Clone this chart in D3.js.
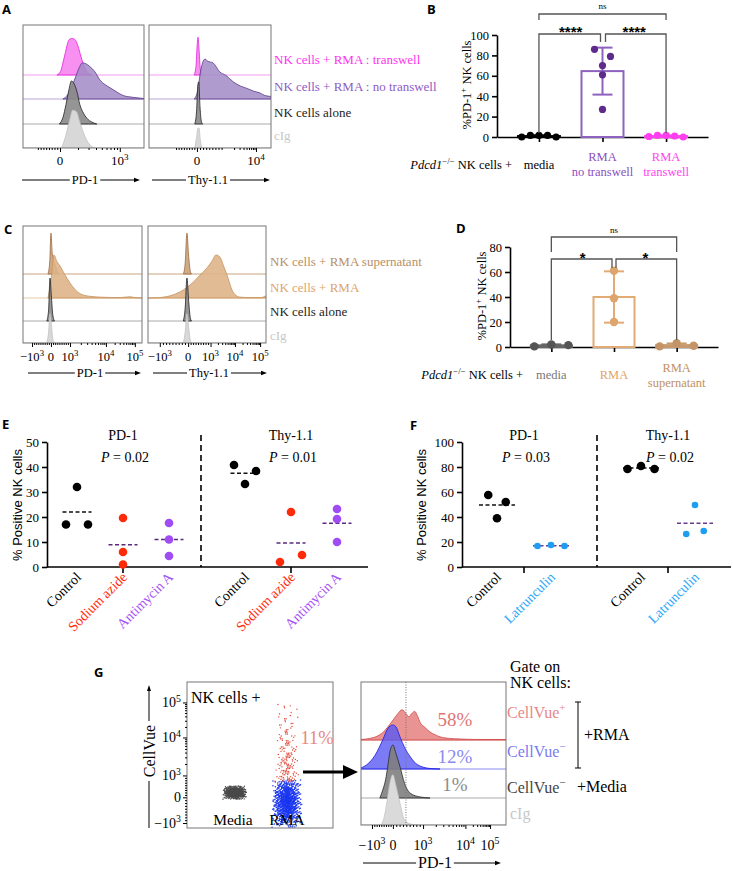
<!DOCTYPE html>
<html>
<head>
<meta charset="utf-8">
<script src="https://cdn.jsdelivr.net/npm/d3@7"></script>
<style>
  body { margin: 0; background: #fff; }
</style>
</head>
<body>
<svg id="fig" width="733" height="871"></svg>
<script>
var SERIF = "'Liberation Serif', 'Times New Roman', serif";
var SANS = "'Liberation Sans', Arial, sans-serif";

// ---------------- data ----------------
// A: flow histograms, [axis channel 0-100, % of mode]
var aLanes = ["NK cells + RMA : transwell", "NK cells + RMA : no transwell", "NK cells alone", "cIg"];
var aPd1Transwell   = [[28,0],[31,8],[33,28],[35,52],[36.5,70],[38,82],[40,85],[42,84],[44,78],[46,62],[48,42],[50,24],[52,11],[54,4],[57,0]];
var aPd1NoTranswell = [[33,0],[37,10],[40.5,30],[44,55],[47,76],[49,84],[52,82],[55,76],[59.5,63],[63.6,44],[68,33],[72,26],[76,19],[80,12],[84,7],[88,5],[97,2],[100,1]];
var aPd1Alone       = [[30,0],[33,15],[35.5,45],[38,80],[40,100],[42,95],[44.6,75],[47,45],[50,25],[54,10],[58,3],[61,0]];
var aPd1Cig         = [[32,0],[35.5,30],[39,70],[41,88],[44,85],[47,60],[50,35],[54,12],[57,3],[60,0]];
var aThyTranswell   = [[37,0],[38.5,20],[39.5,70],[40.2,88],[41,60],[42,15],[43,0]];
var aThyNoTranswell = [[37,0],[40,20],[42,60],[44,85],[46,93],[48,88],[52.5,84],[58,63],[63,55],[69,40],[75,30],[80,25],[86,18],[91,14],[95,8],[100,6]];
var aThyAlone       = [[37.5,0],[39,30],[40,90],[40.8,98],[41.8,40],[43,5],[44,0]];
var aThyCig         = [[37.5,0],[39,25],[40,45],[41,47],[42,20],[43.5,0]];
var aPd1TickPos = [30.6, 80], aPd1TickLabels = ["0", "10^{3}"];
var aThyTickPos = [39.3, 87.7], aThyTickLabels = ["0", "10^{4}"];

// B: % PD-1+ NK cells
var bCategories = ["media", "RMA no transwell", "RMA transwell"];
var bMedia       = [0, 1.5, 1.5, 1.5, 0];
var bNoTranswell = [86, 79, 70, 61, 27];
var bTranswell   = [0.5, 1.5, 1.5, 1, 0];
var bTicks = [0, 20, 40, 60, 80, 100];

// C: histograms
var cLanes = ["NK cells + RMA supernatant", "NK cells + RMA", "NK cells alone", "cIg"];
var cPd1Super = [[21,0],[22.5,30],[23.5,95],[24.5,50],[25.5,35],[27,20],[28.5,8],[30,0]];
var cPd1Rma   = [[21,0],[23.5,40],[26,100],[28.5,85],[31,75],[35,55],[39.5,35],[43.7,20],[48,10],[56,4],[65,2],[81.5,1],[90,3],[94,1],[100,0]];
var cPd1Alone = [[20,0],[21.5,25],[22.7,100],[23.8,60],[25,15],[26.5,0]];
var cPd1Cig   = [[20,0],[21.5,25],[22.7,68],[23.8,45],[25,10],[26.5,0]];
var cThySuper = [[30,0],[31.5,25],[33,95],[34.5,40],[36,5],[37,0]];
var cThyRma   = [[0,0],[10,1],[18.6,5],[27,14],[35.6,30],[44,53],[50,70],[54,85],[57.6,100],[61,95],[64,75],[68,45],[71,20],[74.6,6],[78,2],[86,1],[96.6,1],[99,4],[100,4]];
var cThyAlone = [[30,0],[31.5,30],[33,100],[34.5,45],[36,5],[37,0]];
var cThyCig   = [[30,0],[31.5,25],[33,68],[34.5,35],[36,5],[37,0]];
var cPd1TickPos = [7.6, 23.5, 39.5, 69.7, 94];
var cThyTickPos = [10, 34, 53, 73.7, 95];
var cTickLabels = ["\u221210^{3}", "0", "10^{3}", "10^{4}", "10^{5}"];

// D
var dCategories = ["media", "RMA", "RMA supernatant"];
var dMedia = [0.5, 2, 1.5];
var dRma = [61, 39, 20];
var dSupernatant = [0.5, 3, 1];
var dTicks = [0, 20, 40, 60, 80];

// E
var eGroups = ["PD-1", "Thy-1.1"];
var eTreatments = ["Control", "Sodium azide", "Antimycin A"];
var ePValues = ["0.02", "0.01"];
var ePd1 = [[17, 32, 17], [19.6, 6, 1], [17.6, 11, 4.4]];
var eThy = [[40.8, 38.4, 33.2], [2, 22, 4.8], [23.2, 19.2, 10]];
var eTicks = [0, 10, 20, 30, 40, 50];

// F
var fGroups = ["PD-1", "Thy-1.1"];
var fTreatments = ["Control", "Latrunculin"];
var fPValues = ["0.03", "0.02"];
var fPd1 = [[57.6, 39, 52], [16.8, 17.6, 16.8]];
var fThy = [[78.4, 80.8, 78.4], [26.4, 49.6, 28.8]];
var fTicks = [0, 20, 40, 60, 80, 100];

// G: CellVue dot plot, [CellVue channel 0-100, events]
var gCategories = ["Media", "RMA"];
var gMediaEvents  = [[20.5,40],[22,110],[23.5,160],[25,160],[26.5,110],[28,40]];
var gRmaNegEvents = [[2,20],[5,45],[8,70],[11,95],[14,115],[17,125],[20,120],[23,105],[26,80],[29,55],[31.5,30]];
var gRmaPosEvents = [[34,24],[38,22],[42,20],[46,18],[50,16],[54,14],[58,12],[62,10],[66,8],[70,7],[74,5],[78,4],[82,3],[85,2]];
var gCellVueTickPos = [86, 62, 36, 21, 3.4];
var gCellVueTickLabels = ["10^{5}", "10^{4}", "10^{3}", "0", "\u221210^{3}"];
// G: PD-1 histograms
var gLanes = ["CellVue^{+}", "CellVue^{\u2212}", "CellVue^{\u2212}", "cIg"];
var gPercents = ["58%", "12%", "1%"];
var gPos  = [[0,1],[6,3],[11.7,8],[16.5,18],[20,30],[23,41],[25.5,50],[28.3,57],[31,50],[33,44],[35,50],[37,54],[39,45],[41,32],[44,24],[47.6,15],[51,10],[54.5,6],[61,3],[68,2],[79,1],[100,1]];
var gNeg  = [[0,2],[4,8],[9.7,26],[15,55],[18.6,77],[22,83],[24,80],[27,60],[30,41],[34,23],[39,8],[47.6,1],[54.5,0]];
var gMed  = [[13,0],[15,15],[17,35],[18.6,62],[20,88],[22,100],[24,85],[27,58],[30,28],[34,9],[40.7,2],[47.6,0]];
var gCig  = [[14,0],[16,15],[18,45],[20,80],[22,95],[24,75],[27,40],[29.6,12],[34,2],[39,0]];
var gPd1TickPos = [7.6, 22, 42.8, 72, 89];
var gPd1Gate = 31;

// ---------------- helpers ----------------
var svg = d3.select("#fig");
var clipCount = 0;

// "^{..}" = superscript, "*..*" = italic
function richText(g, x, y, str, o) {
  o = o || {};
  var size = o.size || 13;
  var t = g.append("text")
    .attr("x", o.transform ? 0 : x).attr("y", o.transform ? 0 : y)
    .attr("font-size", size).attr("font-family", o.family || SERIF)
    .attr("fill", o.color || "#000").attr("text-anchor", o.anchor || "start");
  if (o.weight) t.attr("font-weight", o.weight);
  if (o.transform) t.attr("transform", o.transform);
  if (o.plain) { t.text(str); return t; }
  var parts = str.split(/(\^\{[^}]*\}|\*[^*]+\*)/).filter(function(s) { return s.length; });
  var raised = false;
  parts.forEach(function(p) {
    var ts = t.append("tspan");
    if (p.indexOf("^{") === 0) {
      ts.text(p.slice(2, -1)).attr("font-size", size * 0.7).attr("dy", -size * 0.42);
      raised = true;
    } else {
      if (p[0] === "*") { ts.attr("font-style", "italic"); p = p.slice(1, -1); }
      if (raised) { ts.attr("dy", size * 0.42); raised = false; }
      ts.text(p);
    }
  });
  return t;
}

function styleAxis(sel, fs) {
  sel.select(".domain").attr("stroke-width", 1.6);
  sel.selectAll(".tick line").attr("stroke-width", 1.6);
  sel.selectAll(".tick text").attr("font-family", SERIF).attr("font-size", fs || 13).attr("fill", "#000");
}

function minorTicks(majors, kinds) {
  var out = [];
  kinds.forEach(function(k, i) {
    var a = majors[i], b = majors[i + 1];
    for (var j = 2; j <= 9; j++) out.push(k === "log" ? a + Math.log10(j) * (b - a) : a + (j - 1) / 9 * (b - a));
  });
  return out;
}

function histBox(o) {
  var g = svg.append("g");
  var x = d3.scaleLinear().domain([0, 100]).range([o.x0, o.x1]);
  var h = d3.scaleLinear().domain([0, 100]).range([0, o.peak]);
  var id = "clip" + (clipCount++);
  g.append("clipPath").attr("id", id).append("rect")
    .attr("x", o.x0).attr("y", o.top).attr("width", o.x1 - o.x0).attr("height", o.bottom - o.top);
  var inner = g.append("g").attr("clip-path", "url(#" + id + ")");
  o.series.forEach(function(s, i) {
    var base = o.bases[i], st = o.styles[i];
    inner.append("line").attr("x1", o.x0).attr("x2", o.x1).attr("y1", base).attr("y2", base)
      .attr("stroke", st.base).attr("stroke-width", 1);
    var area = d3.area().curve(d3.curveMonotoneX)
      .x(function(d) { return x(d[0]); })
      .y0(base)
      .y1(function(d) { return base - h(d[1]); });
    inner.append("path").datum(s).attr("d", area)
      .attr("fill", st.fill).attr("fill-opacity", st.opacity)
      .attr("stroke", st.stroke).attr("stroke-width", 0.8);
  });
  if (o.gate != null) {
    g.append("line").attr("x1", x(o.gate)).attr("x2", x(o.gate)).attr("y1", o.top).attr("y2", o.bottom)
      .attr("stroke", "#777").attr("stroke-dasharray", "1,1.5");
  }
  g.append("rect").attr("x", o.x0).attr("y", o.top).attr("width", o.x1 - o.x0).attr("height", o.bottom - o.top)
    .attr("fill", "none").attr("stroke", "#777").attr("stroke-width", 1);
  var major = g.append("g").attr("transform", "translate(0," + o.bottom + ")")
    .call(d3.axisBottom(x).tickValues(o.ticks).tickFormat("").tickSize(4).tickSizeOuter(0));
  major.select(".domain").remove();
  if (o.minor) {
    var mn = g.append("g").attr("transform", "translate(0," + o.bottom + ")")
      .call(d3.axisBottom(x).tickValues(o.minor).tickFormat("").tickSize(2).tickSizeOuter(0));
    mn.select(".domain").remove();
  }
  o.labels.forEach(function(lab, i) {
    richText(g, x(o.ticks[i]), o.labelY, lab, { size: o.labelSize, anchor: "middle" });
  });
  return x;
}

function arrowLabel(xa, xb, y, cx, text, size) {
  var g = svg.append("g");
  var t = richText(g, cx, y + size * 0.34, text, { size: size, anchor: "middle" });
  var w = t.node().getComputedTextLength();
  g.append("line").attr("x1", xa).attr("x2", cx - w / 2 - 2).attr("y1", y).attr("y2", y).attr("stroke", "#000");
  g.append("line").attr("x1", cx + w / 2 + 2).attr("x2", xb - 4).attr("y1", y).attr("y2", y).attr("stroke", "#000");
  g.append("path").attr("d", "M" + xb + "," + y + "L" + (xb - 6) + "," + (y - 2.2) + "L" + (xb - 6) + "," + (y + 2.2) + "Z").attr("fill", "#000");
}

// group points whose y are within thresh px; spread each group around the category
function swarm(values, y, thresh, spacing) {
  var idx = values.map(function(v, i) { return i; }).sort(function(a, b) { return values[b] - values[a]; });
  var groups = [], cur = null;
  idx.forEach(function(i) {
    if (cur && Math.abs(y(values[i]) - y(values[cur[0]])) < thresh) cur.push(i);
    else { cur = [i]; groups.push(cur); }
  });
  var off = [];
  groups.forEach(function(gr) {
    gr.sort(function(a, b) { return a - b; });
    var s = spacing[gr.length] || spacing[0];
    gr.forEach(function(i, k) { off[i] = (k - (gr.length - 1) / 2) * s; });
  });
  return off;
}

function bracket(g, xa, xb, yTop, dropA, dropB) {
  g.append("path").attr("d", "M" + xa + "," + dropA + "V" + yTop + "H" + xb + "V" + dropB)
    .attr("fill", "none").attr("stroke", "#555").attr("stroke-width", 1.3);
}

function barPanel(o) {
  var g = svg.append("g");
  var y = d3.scaleLinear().domain(o.yDomain).range([o.y0, o.y1]);
  var x = d3.scalePoint().domain(o.cats).range([o.xa, o.xb]).padding(0.66);
  g.append("g").attr("transform", "translate(" + o.xa + ",0)")
    .call(d3.axisLeft(y).tickValues(o.yTicks).tickSize(5).tickSizeOuter(0)).call(styleAxis, 12.5);
  g.append("g").attr("transform", "translate(0," + o.y0 + ")")
    .call(d3.axisBottom(x).tickSize(5).tickSizeOuter(0).tickFormat("")).call(styleAxis);
  o.groups.forEach(function(vals, i) {
    var cx = x(o.cats[i]), m = d3.mean(vals), sd = d3.deviation(vals), st = o.styles[i];
    g.append("rect").attr("x", cx - o.barW / 2).attr("width", o.barW)
      .attr("y", y(m)).attr("height", y(0) - y(m))
      .attr("fill", "none").attr("stroke", st.bar).attr("stroke-width", 2);
    var lo = Math.max(0, m - sd), hi = m + sd;
    g.append("line").attr("x1", cx).attr("x2", cx).attr("y1", y(lo)).attr("y2", y(hi))
      .attr("stroke", st.bar).attr("stroke-width", 2);
    [lo, hi].forEach(function(v) {
      g.append("line").attr("x1", cx - 10).attr("x2", cx + 10).attr("y1", y(v)).attr("y2", y(v))
        .attr("stroke", st.bar).attr("stroke-width", 2);
    });
    var off = swarm(vals, y, 8, o.spacing);
    g.selectAll(null).data(vals).enter().append("circle")
      .attr("cx", function(d, j) { return cx + off[j]; })
      .attr("cy", function(d) { return y(d); })
      .attr("r", o.r).attr("fill", st.pt);
  });
  return { g: g, x: x, y: y };
}

function dotPanel(o) {
  var g = svg.append("g");
  var y = d3.scaleLinear().domain(o.yDomain).range([o.yBottom, o.yTop]);
  var outer = d3.scaleBand().domain(o.groups).range(o.outerRange);
  var inner = d3.scalePoint().domain(o.treatments).range(o.innerRange);
  g.append("g").attr("transform", "translate(" + o.xStart + ",0)")
    .call(d3.axisLeft(y).tickValues(o.yTicks).tickSize(5).tickSizeOuter(0)).call(styleAxis, 13);
  var xa = g.append("g").attr("transform", "translate(0," + o.yBottom + ")")
    .call(d3.axisBottom(outer).tickSize(6).tickSizeOuter(0).tickFormat(""));
  styleAxis(xa);
  xa.select(".domain").attr("d", "M" + o.xStart + ",0H" + o.xEnd);
  g.append("line").attr("x1", o.divX).attr("x2", o.divX).attr("y1", o.divTop).attr("y2", o.yBottom)
    .attr("stroke", "#000").attr("stroke-width", 1.6).attr("stroke-dasharray", "6,4");
  richText(g, 0, 0, "% Positive NK cells", { size: 13, family: SANS, anchor: "middle",
    transform: "translate(" + o.yLabelX + "," + o.yLabelY + ") rotate(-90)" });
  o.data.forEach(function(grpVals, gi) {
    var gc = outer(o.groups[gi]) + outer.bandwidth() / 2;
    richText(g, gc, 440, o.groups[gi], { size: 14, anchor: "middle" });
    richText(g, gc + 2, 462, "*P* = " + o.pValues[gi], { size: 14, anchor: "middle" });
    grpVals.forEach(function(vals, ti) {
      var cx = gc + inner(o.treatments[ti]), st = o.styles[ti], m = d3.mean(vals);
      var off = swarm(vals, y, 8, o.spacing);
      g.append("line").attr("x1", cx - o.meanW / 2).attr("x2", cx + o.meanW / 2)
        .attr("y1", y(m)).attr("y2", y(m))
        .attr("stroke", st.mean).attr("stroke-width", 1.5).attr("stroke-dasharray", "4,2.5");
      g.selectAll(null).data(vals).enter().append("circle")
        .attr("cx", function(d, j) { return cx + off[j]; })
        .attr("cy", function(d) { return y(d); })
        .attr("r", st.r).attr("fill", st.pt);
      richText(g, 0, 0, o.treatments[ti], { size: 14, anchor: "end", color: st.label,
        transform: "translate(" + (cx + 5) + "," + (o.yBottom + 11) + ") rotate(-45)" });
    });
  });
}

function cloud(g, bins, step, cx, halfW, color, r, y) {
  var pts = [];
  bins.forEach(function(b, bi) {
    for (var i = 0; i < b[1]; i++) {
      var u = (((i * 0.6180339 + bi * 0.31) % 1) + ((i * 0.4142136 + bi * 0.17) % 1)) / 2 - 0.5;
      var v = ((i * 0.7548777 + bi * 0.5698403) % 1) - 0.5;
      pts.push([cx + u * 2 * halfW, y(b[0] + v * step)]);
    }
  });
  g.selectAll(null).data(pts).enter().append("circle")
    .attr("cx", function(d) { return d[0]; }).attr("cy", function(d) { return d[1]; })
    .attr("r", r).attr("fill", color);
}

function letter(x, y, t) {
  svg.append("text").attr("x", x).attr("y", y).text(t)
    .attr("font-family", "'Open Sans', 'DejaVu Sans', sans-serif").attr("font-weight", 700).attr("font-size", 13);
}

// ---------------- panel A ----------------
var aStyles = [
  { fill: "#F77CF0", stroke: "#E21EDC", base: "#F49AF0", opacity: 0.85 },
  { fill: "#A28AC6", stroke: "#5A3A8C", base: "#B9A4D8", opacity: 0.85 },
  { fill: "#8A8A8A", stroke: "#222", base: "#aaa", opacity: 0.9 },
  { fill: "#D8D8D8", stroke: "#c2c2c2", base: "#ccc", opacity: 1 }
];
letter(2, 14, "A");
histBox({ x0: 23, x1: 144, top: 25, bottom: 148, bases: [75, 99, 124, 148], peak: 43,
  series: [aPd1Transwell, aPd1NoTranswell, aPd1Alone, aPd1Cig], styles: aStyles,
  ticks: aPd1TickPos, labels: aPd1TickLabels, labelY: 165, labelSize: 13,
  minor: minorTicks([10, aPd1TickPos[0], aPd1TickPos[1]], ["lin", "log"]) });
histBox({ x0: 149, x1: 271, top: 25, bottom: 148, bases: [75, 99, 124, 148], peak: 43,
  series: [aThyTranswell, aThyNoTranswell, aThyAlone, aThyCig], styles: aStyles,
  ticks: aThyTickPos, labels: aThyTickLabels, labelY: 165, labelSize: 13,
  minor: minorTicks([20, aThyTickPos[0], 62, aThyTickPos[1]], ["lin", "lin", "log"]) });
var aLabelColors = ["#FF33EE", "#8F5BC6", "#222", "#c8c8c8"];
[64, 91, 117, 140].forEach(function(yy, i) {
  richText(svg, 274, yy, aLanes[i], { size: 13, color: aLabelColors[i] });
});
arrowLabel(22, 140, 180, 85, "PD-1", 12.5);
arrowLabel(152, 270, 180, 208, "Thy-1.1", 12.5);

// ---------------- panel B ----------------
letter(427, 14, "B");
var B = barPanel({ yDomain: [0, 100], y0: 137, y1: 35, xa: 497, xb: 708, cats: bCategories,
  yTicks: bTicks, barW: 42, r: 3.6, spacing: [8.6, 8.6, 16, 8.6, 8.6, 8.6],
  groups: [bMedia, bNoTranswell, bTranswell],
  styles: [{ bar: "#000", pt: "#000" }, { bar: "#8E62BE", pt: "#5E2B8C" }, { bar: "#FF44EE", pt: "#FF3EF0" }] });
(function() {
  var x = B.x, g = B.g;
  var xm = x(bCategories[0]), xr = x(bCategories[1]), xt = x(bCategories[2]);
  bracket(g, xm, xr - 2, 34, 133, 42);
  bracket(g, xr + 3, xt, 34, 42, 133);
  bracket(g, xm, xt, 14, 20, 20);
  richText(g, (xm + xr) / 2, 37, "****", { size: 15, family: SANS, weight: 700, anchor: "middle", plain: true });
  richText(g, (xr + xt) / 2, 37, "****", { size: 15, family: SANS, weight: 700, anchor: "middle", plain: true });
  richText(g, (xm + xt) / 2, 9, "ns", { size: 9, anchor: "middle" });
  richText(g, 0, 0, "%PD-1^{+} NK cells", { size: 12.5, anchor: "middle", transform: "translate(471,85) rotate(-90)" });
  richText(g, 512, 169, "*Pdcd1*^{\u2212/\u2212} NK cells +", { size: 12.5, anchor: "end" });
  richText(g, xm, 169, "media", { size: 12.5, anchor: "middle" });
  richText(g, xr, 161, "RMA", { size: 12.5, anchor: "middle", color: "#8A4FC0" });
  richText(g, xr, 176, "no transwell", { size: 12.5, anchor: "middle", color: "#8A4FC0" });
  richText(g, xt, 161, "RMA", { size: 12.5, anchor: "middle", color: "#FF44EE" });
  richText(g, xt, 176, "transwell", { size: 12.5, anchor: "middle", color: "#FF44EE" });
})();

// ---------------- panel C ----------------
var cStyles = [
  { fill: "#CBA27B", stroke: "#9A6A3C", base: "#C9A47E", opacity: 0.9 },
  { fill: "#DDB488", stroke: "#C8925C", base: "#E6C7A6", opacity: 0.9 },
  { fill: "#8A8A8A", stroke: "#222", base: "#aaa", opacity: 0.9 },
  { fill: "#D8D8D8", stroke: "#c2c2c2", base: "#ccc", opacity: 1 }
];
letter(4, 234, "C");
histBox({ x0: 23, x1: 142, top: 226, bottom: 343, bases: [274, 298, 321, 343], peak: 43,
  series: [cPd1Super, cPd1Rma, cPd1Alone, cPd1Cig], styles: cStyles,
  ticks: cPd1TickPos, labels: cTickLabels, labelY: 361, labelSize: 12.5,
  minor: minorTicks(cPd1TickPos, ["lin", "lin", "log", "log"]) });
histBox({ x0: 148, x1: 266, top: 226, bottom: 343, bases: [274, 298, 321, 343], peak: 43,
  series: [cThySuper, cThyRma, cThyAlone, cThyCig], styles: cStyles,
  ticks: cThyTickPos, labels: cTickLabels, labelY: 361, labelSize: 12.5,
  minor: minorTicks(cThyTickPos, ["lin", "lin", "log", "log"]) });
var cLabelColors = ["#B88F64", "#DDA46E", "#222", "#c8c8c8"];
[266, 292, 316, 340].forEach(function(yy, i) {
  richText(svg, 270, yy, cLanes[i], { size: 13, color: cLabelColors[i] });
});
arrowLabel(28, 141, 373, 90, "PD-1", 12.5);
arrowLabel(153, 267, 373, 209, "Thy-1.1", 12.5);

// ---------------- panel D ----------------
letter(456, 233, "D");
var D = barPanel({ yDomain: [0, 80], y0: 347, y1: 247, xa: 510, xb: 718, cats: dCategories,
  yTicks: dTicks, barW: 41, r: 4.2, spacing: [17, 17, 17, 17],
  groups: [dMedia, dRma, dSupernatant],
  styles: [{ bar: "#666", pt: "#555" }, { bar: "#E2AA74", pt: "#DDA46C" }, { bar: "#C79A6C", pt: "#C49466" }] });
(function() {
  var x = D.x, g = D.g;
  var xm = x(dCategories[0]), xr = x(dCategories[1]), xs = x(dCategories[2]);
  bracket(g, xm, xr - 2, 259, 340, 268);
  bracket(g, xr + 2, xs, 259, 268, 340);
  bracket(g, xm, xs, 237, 252, 252);
  richText(g, (xm + xr) / 2, 263, "*", { size: 15, family: SANS, weight: 700, anchor: "middle", plain: true });
  richText(g, (xr + xs) / 2, 263, "*", { size: 15, family: SANS, weight: 700, anchor: "middle", plain: true });
  richText(g, (xm + xs) / 2, 233, "ns", { size: 9, anchor: "middle" });
  richText(g, 0, 0, "%PD-1^{+} NK cells", { size: 12.5, anchor: "middle", transform: "translate(486,296) rotate(-90)" });
  richText(g, 523, 379, "*Pdcd1*^{\u2212/\u2212} NK cells +", { size: 12.5, anchor: "end" });
  richText(g, xm, 379, "media", { size: 12.5, anchor: "middle", color: "#777" });
  richText(g, xr, 379, "RMA", { size: 12.5, anchor: "middle", color: "#E4A266" });
  richText(g, xs, 372, "RMA", { size: 12.5, anchor: "middle", color: "#C0915F" });
  richText(g, xs, 387, "supernatant", { size: 12.5, anchor: "middle", color: "#C0915F" });
})();

// ---------------- panel E ----------------
letter(2, 429, "E");
dotPanel({ yDomain: [0, 50], yBottom: 567, yTop: 442, xStart: 47, xEnd: 368,
  groups: eGroups, treatments: eTreatments, pValues: ePValues, data: [ePd1, eThy],
  outerRange: [39, 375], innerRange: [-46, 46], yTicks: eTicks,
  divX: 201, divTop: 435, meanW: 29, spacing: [22, 22, 22, 22],
  yLabelX: 22, yLabelY: 505,
  styles: [
    { pt: "#000", r: 4.3, mean: "#111", label: "#000" },
    { pt: "#FF2A0A", r: 4.3, mean: "#5B2A7E", label: "#FF2A0A" },
    { pt: "#A04CF5", r: 4.3, mean: "#5B2A7E", label: "#A552F5" }
  ] });

// ---------------- panel F ----------------
letter(410, 430, "F");
dotPanel({ yDomain: [0, 100], yBottom: 567, yTop: 442, xStart: 462, xEnd: 731,
  groups: fGroups, treatments: fTreatments, pValues: fPValues, data: [fPd1, fThy],
  outerRange: [452, 740], innerRange: [-27, 27], yTicks: fTicks,
  divX: 597, divTop: 435, meanW: 36, spacing: [15, 15, 17.5, 13.5],
  yLabelX: 426, yLabelY: 505,
  styles: [
    { pt: "#000", r: 4.3, mean: "#111", label: "#000" },
    { pt: "#1E9EF2", r: 3.3, mean: "#6A3A8A", label: "#2AA8F5" }
  ] });

// ---------------- panel G ----------------
letter(94, 677, "G");
(function() {
  var g = svg.append("g");
  var y = d3.scaleLinear().domain([0, 100]).range([828, 682]);
  var x = d3.scalePoint().domain(gCategories).range([187, 333]).padding(0.85);
  var id = "clip" + (clipCount++);
  g.append("clipPath").attr("id", id).append("rect").attr("x", 187).attr("y", 682).attr("width", 146).attr("height", 146);
  var inner = g.append("g").attr("clip-path", "url(#" + id + ")");
  cloud(inner, gMediaEvents, 1.5, x(gCategories[0]) + 2, 12, "#4a4a4a", 0.7, y);
  cloud(inner, gRmaNegEvents, 3, x(gCategories[1]), 15, "#1834F0", 0.75, y);
  cloud(inner, gRmaPosEvents, 4, x(gCategories[1]), 12, "#E0483A", 0.7, y);
  g.append("rect").attr("x", 187).attr("y", 682).attr("width", 146).attr("height", 146)
    .attr("fill", "none").attr("stroke", "#777");
  var ax = g.append("g").attr("transform", "translate(187,0)")
    .call(d3.axisLeft(y).tickValues(gCellVueTickPos).tickFormat("").tickSize(4).tickSizeOuter(0));
  ax.select(".domain").remove();
  var mn = g.append("g").attr("transform", "translate(187,0)")
    .call(d3.axisLeft(y).tickValues(minorTicks(gCellVueTickPos.slice().reverse(), ["lin", "lin", "log", "log"]))
      .tickFormat("").tickSize(2).tickSizeOuter(0));
  mn.select(".domain").remove();
  gCellVueTickLabels.forEach(function(lab, i) {
    richText(g, 181, y(gCellVueTickPos[i]) + 5, lab, { size: 14, anchor: "end" });
  });
  // CellVue axis title
  g.append("line").attr("x1", 149).attr("x2", 149).attr("y1", 828).attr("y2", 781).attr("stroke", "#000");
  g.append("line").attr("x1", 149).attr("x2", 149).attr("y1", 721).attr("y2", 690).attr("stroke", "#000");
  g.append("path").attr("d", "M149,685L147,691L151,691Z").attr("fill", "#000");
  richText(g, 0, 0, "CellVue", { size: 16, anchor: "middle", transform: "translate(154.5,751) rotate(-90)" });
  richText(g, 191, 703, "NK cells +", { size: 16 });
  richText(g, x(gCategories[0]), 825, gCategories[0], { size: 15.5, anchor: "middle" });
  richText(g, x(gCategories[1]), 825, gCategories[1], { size: 15.5, anchor: "middle" });
  richText(g, 317, 744, "11%", { size: 18.5, anchor: "middle", color: "#E8877E" });
  // arrow to histogram
  g.append("line").attr("x1", 303).attr("x2", 346).attr("y1", 772).attr("y2", 772).attr("stroke", "#000").attr("stroke-width", 3);
  g.append("path").attr("d", "M343,765L358,772L343,779Z").attr("fill", "#000");
})();

var gStyles = [
  { fill: "#E58080", stroke: "#D04848", base: "#E89A9A", opacity: 0.85 },
  { fill: "#5A5AF2", stroke: "#1A1AE6", base: "#8A8AF2", opacity: 0.8 },
  { fill: "#7F7F7F", stroke: "#2a2a2a", base: "#aaa", opacity: 0.9 },
  { fill: "#DADADA", stroke: "#c4c4c4", base: "#ccc", opacity: 1 }
];
histBox({ x0: 361, x1: 506, top: 682, bottom: 825, bases: [740, 769, 798, 825], peak: 53,
  series: [gPos, gNeg, gMed, gCig], styles: gStyles, gate: gPd1Gate,
  ticks: gPd1TickPos, labels: cTickLabels, labelY: 850, labelSize: 14,
  minor: minorTicks(gPd1TickPos, ["lin", "lin", "log", "log"]) });
arrowLabel(363, 501, 863, 435, "PD-1", 16);
var gPctColors = ["#E07474", "#8A8AEE", "#8C8C8C"];
[726, 763, 791].forEach(function(yy, i) {
  richText(svg, 455, yy, gPercents[i], { size: 19, anchor: "middle", color: gPctColors[i] });
});
richText(svg, 510, 672, "Gate on", { size: 16 });
richText(svg, 510, 688, "NK cells:", { size: 16 });
var gLaneColors = ["#E88888", "#7B7BEF", "#444", "#C8C8C8"];
[718, 757, 793, 819].forEach(function(yy, i) {
  richText(svg, i === 3 ? 510 : 507, yy, gLanes[i], { size: 16, color: gLaneColors[i] });
});
svg.append("path").attr("d", "M575,702H581M578,702V768M575,768H581").attr("stroke", "#000").attr("fill", "none");
richText(svg, 584, 740, "+RMA", { size: 16 });
richText(svg, 577, 792, "+Media", { size: 16 });
</script>
</body>
</html>
